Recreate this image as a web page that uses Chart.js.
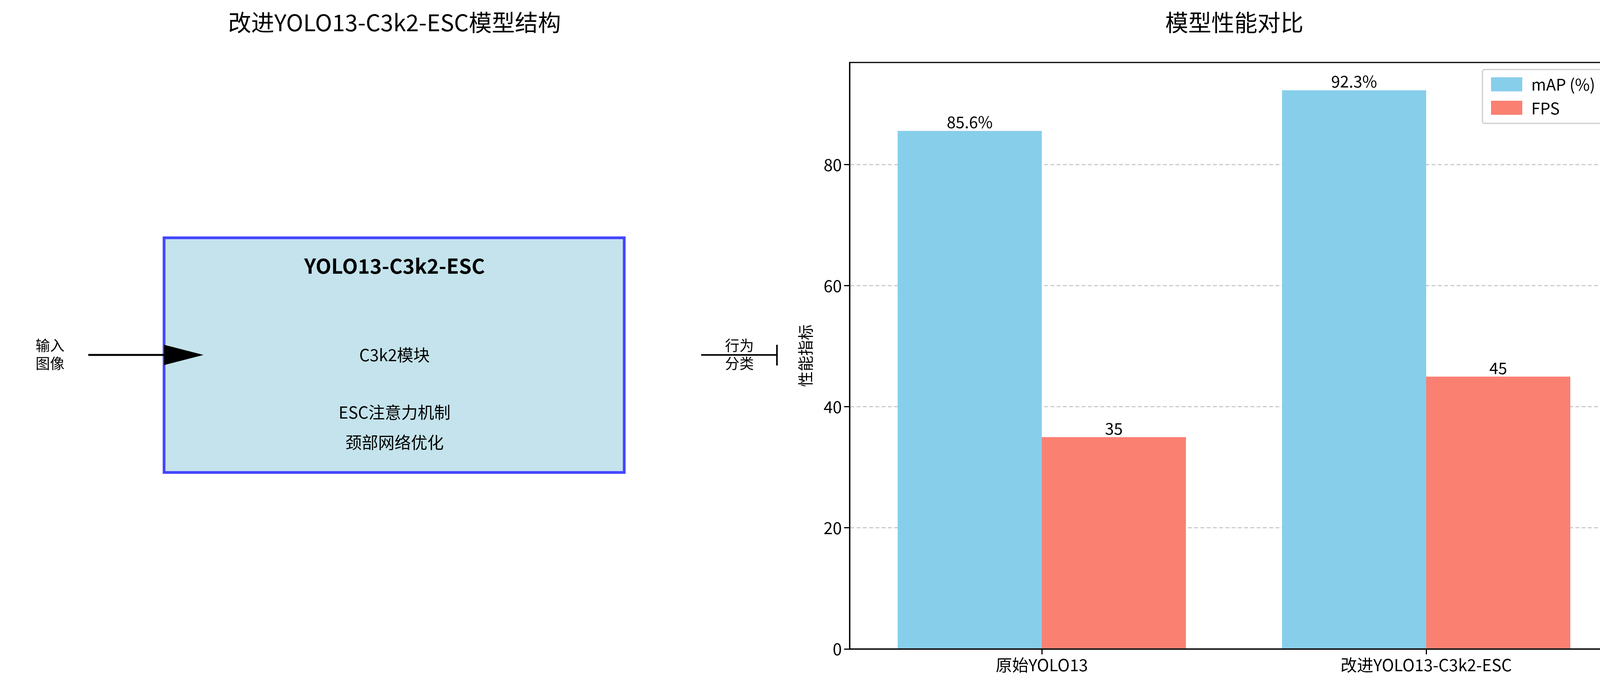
<!DOCTYPE html>
<html><head><meta charset="utf-8">
<script src="https://cdn.jsdelivr.net/npm/chart.js@4"></script>
<style>html,body{margin:0;padding:0;background:#fff}canvas{display:block}</style>
</head><body>
<canvas id="c" width="4170" height="1762"></canvas>
<script>
const categories = ['原始YOLO13', '改进YOLO13-C3k2-ESC'];
const mapValues = [85.6, 92.3];
const fpsValues = [35, 45];
const yTicks = [0, 20, 40, 60, 80];
const F = '"Noto Sans CJK SC", "Noto Sans", sans-serif';

const overlay = {
  id: 'overlay',
  afterDraw(chart) {
    const ctx = chart.ctx, a = chart.chartArea;
    ctx.save();
    ctx.strokeStyle = '#000'; ctx.lineWidth = 3;
    ctx.strokeRect(a.left, a.top, a.right - a.left, a.bottom - a.top);
    ctx.fillStyle = '#000'; ctx.textAlign = 'center'; ctx.textBaseline = 'middle';
    ctx.font = '59px ' + F;
    ctx.fillText('改进YOLO13-C3k2-ESC模型结构', 1010, 58);
    ctx.fillText('模型性能对比', 3160, 58);
    ctx.font = '41px ' + F; ctx.textBaseline = 'bottom';
    chart.getDatasetMeta(0).data.forEach((b, i) => ctx.fillText(mapValues[i] + '%', b.x, b.y - 2));
    chart.getDatasetMeta(1).data.forEach((b, i) => ctx.fillText(String(fpsValues[i]), b.x, b.y - 2));
    ctx.fillStyle = '#fff'; ctx.strokeStyle = '#ccc'; ctx.lineWidth = 3;
    ctx.beginPath(); ctx.roundRect(3795, 178, 325, 138, 6); ctx.fill(); ctx.stroke();
    ctx.fillStyle = '#87CEEB'; ctx.fillRect(3817, 198, 80, 36);
    ctx.fillStyle = '#FA8072'; ctx.fillRect(3817, 258, 80, 36);
    ctx.fillStyle = '#000'; ctx.textAlign = 'left'; ctx.textBaseline = 'middle';
    ctx.fillText('mAP (%)', 3920, 216); ctx.fillText('FPS', 3920, 277);
    ctx.fillStyle = '#c4e3ec'; ctx.fillRect(420, 609, 1178, 601);
    ctx.strokeStyle = '#4444ff'; ctx.lineWidth = 7; ctx.strokeRect(420, 609, 1178, 601);
    ctx.fillStyle = '#000'; ctx.textAlign = 'center';
    ctx.font = 'bold 52px ' + F; ctx.fillText('YOLO13-C3k2-ESC', 1010, 681);
    ctx.font = '42px ' + F;
    ctx.fillText('C3k2模块', 1010, 909);
    ctx.fillText('ESC注意力机制', 1010, 1056);
    ctx.fillText('颈部网络优化', 1010, 1133);
    ctx.font = '37px ' + F;
    ctx.fillText('输入', 128, 885); ctx.fillText('图像', 128, 931);
    ctx.fillText('行为', 1893, 885); ctx.fillText('分类', 1893, 931);
    ctx.strokeStyle = '#000'; ctx.lineWidth = 5;
    ctx.beginPath(); ctx.moveTo(226, 909); ctx.lineTo(430, 909); ctx.stroke();
    ctx.beginPath(); ctx.moveTo(420, 883); ctx.lineTo(521, 909); ctx.lineTo(420, 935); ctx.closePath(); ctx.fill();
    ctx.lineWidth = 4;
    ctx.beginPath(); ctx.moveTo(1795, 909); ctx.lineTo(1989, 909); ctx.moveTo(1989, 883); ctx.lineTo(1989, 936); ctx.stroke();
    ctx.restore();
  }
};

new Chart(document.getElementById('c'), {
  type: 'bar',
  data: {
    labels: categories,
    datasets: [
      { label: 'mAP (%)', data: mapValues, backgroundColor: '#87CEEB', barPercentage: 1, categoryPercentage: 0.75 },
      { label: 'FPS', data: fpsValues, backgroundColor: '#FA8072', barPercentage: 1, categoryPercentage: 0.75 }
    ]
  },
  options: {
    responsive: false, animation: false, devicePixelRatio: 1,
    layout: { padding: { left: 2038, right: 27, top: 160, bottom: 0 } },
    plugins: { legend: { display: false }, tooltip: { enabled: false } },
    scales: {
      x: {
        afterFit(s) { s.height = 100; },
        grid: { display: true, drawOnChartArea: false, offset: false, tickLength: 14, color: '#000', lineWidth: 3 },
        border: { color: '#000', width: 3 },
        ticks: { color: '#000', font: { size: 42, family: F }, padding: 2 }
      },
      y: {
        min: 0, max: 96.9,
        afterFit(s) { s.width = 137; },
        afterBuildTicks(s) { s.ticks = yTicks.map(v => ({ value: v })); },
        grid: { color: '#cccccc', lineWidth: 3, tickLength: 14, tickColor: '#000', tickBorderDash: [] },
        border: { color: '#000', width: 3, dash: [10, 6] },
        ticks: { color: '#000', font: { size: 42, family: F }, padding: 6 },
        title: { display: true, text: '性能指标', color: '#000', font: { size: 40, family: F }, padding: 0 }
      }
    }
  },
  plugins: [overlay]
});
</script>
</body></html>
